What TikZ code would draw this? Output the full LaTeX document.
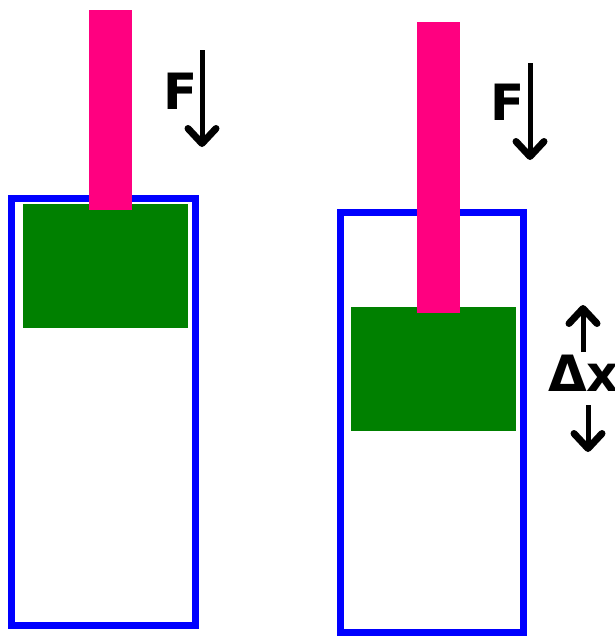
\documentclass[tikz,border=0pt]{standalone}
\usepackage{fontspec}
\setmainfont{DejaVu Sans}
\usetikzlibrary{arrows.meta}
\definecolor{cylblue}{RGB}{0,0,255}
\definecolor{pistgreen}{RGB}{0,128,0}
\definecolor{rodpink}{RGB}{255,0,128}
\tikzset{
  cyl/.style={draw=cylblue, line width=7pt},
  piston/.style={fill=pistgreen},
  rod/.style={fill=rodpink},
  force/.style={line width=5pt, -{Straight Barb[length=15pt,width=28pt,line width=7pt,line join=round,line cap=round]}},
  lbl/.style={inner sep=0pt, font=\bfseries\fontsize{50}{50}\selectfont}
}
\begin{document}
\begin{tikzpicture}[x=1pt,y=-1pt]
\useasboundingbox (0,0) rectangle (615,637);
% left cylinder
\draw[cyl] (11.5,198.5) rectangle (195.5,625.5);
\fill[piston] (23,204) rectangle (188,328);
\fill[rod] (89,10) rectangle (132,210);
% right cylinder
\draw[cyl] (340.5,212.5) rectangle (523.5,632.5);
\fill[piston] (351,307) rectangle (516,431);
\fill[rod] (417,22) rectangle (460,313);
% labels
\node[lbl] (F1) at (181,91) {F};
\node[lbl] (F2) at (508,102) {F};
\node[lbl, anchor=west] (dx) at (548,373) {Δx};
% arrows
\coordinate (a1s) at (202,50);
\coordinate (a1e) at (202,147);
\coordinate (a2s) at (530,63);
\coordinate (a2e) at (530,160);
\coordinate (u1s) at (583,352);
\coordinate (u1e) at (583,305);
\coordinate (d1s) at (588,405);
\coordinate (d1e) at (588,452);
\draw[force] (a1s) -- (a1e);
\draw[force] (a2s) -- (a2e);
\draw[force] (u1s) -- (u1e);
\draw[force] (d1s) -- (d1e);
\end{tikzpicture}
\end{document}
